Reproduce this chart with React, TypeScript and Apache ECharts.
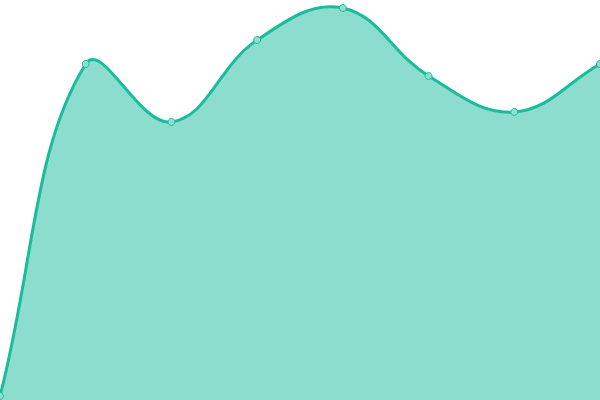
import React, { useEffect, useRef } from "react";
import * as echarts from "echarts";

const categories = ["1", "2", "3", "4", "5", "6", "7", "8"];
const values = [1, 84, 69.5, 90, 98, 81, 72, 84];

const LINE = "#1abc9c";
const AREA = "rgba(26,188,156,0.5)";
const TENSION = 0.4;

function buildPath(pts: number[][], w: number, h: number) {
  const n = pts.length;
  const cps = pts.map((cur, i) => {
    const prev = i > 0 ? pts[i - 1] : cur;
    const next = i < n - 1 ? pts[i + 1] : cur;
    const d01 = Math.hypot(cur[0] - prev[0], cur[1] - prev[1]);
    const d12 = Math.hypot(next[0] - cur[0], next[1] - cur[1]);
    let s01 = d01 / (d01 + d12);
    let s12 = d12 / (d01 + d12);
    if (isNaN(s01)) s01 = 0;
    if (isNaN(s12)) s12 = 0;
    const fa = TENSION * s01;
    const fb = TENSION * s12;
    const cap = (c: number[]) => [Math.min(Math.max(c[0], 0), w), Math.min(Math.max(c[1], 0), h)];
    return {
      before: cap([cur[0] - fa * (next[0] - prev[0]), cur[1] - fa * (next[1] - prev[1])]),
      after: cap([cur[0] + fb * (next[0] - prev[0]), cur[1] + fb * (next[1] - prev[1])]),
    };
  });
  let d = `M${pts[0][0]},${pts[0][1]}`;
  for (let i = 1; i < n; i++) {
    const a = cps[i - 1].after;
    const b = cps[i].before;
    d += ` C${a[0]},${a[1]} ${b[0]},${b[1]} ${pts[i][0]},${pts[i][1]}`;
  }
  return d;
}

export default function App() {
  const ref = useRef<HTMLDivElement>(null);
  useEffect(() => {
    if (!ref.current) return;
    const chart = echarts.init(ref.current, undefined, { renderer: "svg" });
    chart.setOption({
      animation: false,
      grid: { left: 0, right: 0, top: 0, bottom: 0 },
      xAxis: {
        type: "category",
        data: categories,
        boundaryGap: false,
        show: false,
      },
      yAxis: { type: "value", min: 0, max: 100, show: false },
      series: [
        {
          type: "custom",
          data: values.map((v, i) => [i, v]),
          encode: { x: 0, y: 1 },
          clip: false,
          renderItem: (params: any, api: any) => {
            if (params.dataIndex !== 0) return null;
            const pts = values.map((v, i) => api.coord([i, v]));
            const base = api.coord([0, 0])[1];
            const line = buildPath(pts, api.getWidth(), api.getHeight());
            const last = pts[pts.length - 1];
            const area = `${line} L${last[0]},${base} L${pts[0][0]},${base} Z`;
            return {
              type: "group",
              children: [
                { type: "path", shape: { pathData: area }, style: { fill: AREA, stroke: null } },
                {
                  type: "path",
                  shape: { pathData: line },
                  style: { fill: null, stroke: LINE, lineWidth: 3 },
                },
              ],
            };
          },
        },
        {
          type: "scatter",
          data: values,
          symbol: "circle",
          symbolSize: 7,
          itemStyle: { color: "#8de0cf", borderColor: LINE, borderWidth: 1, opacity: 1 },
        },
      ],
    });
    return () => chart.dispose();
  }, []);
  return (
    <div
      ref={ref}
      style={{ position: "fixed", left: 0, top: 0, width: 600, height: 400 }}
    />
  );
}
